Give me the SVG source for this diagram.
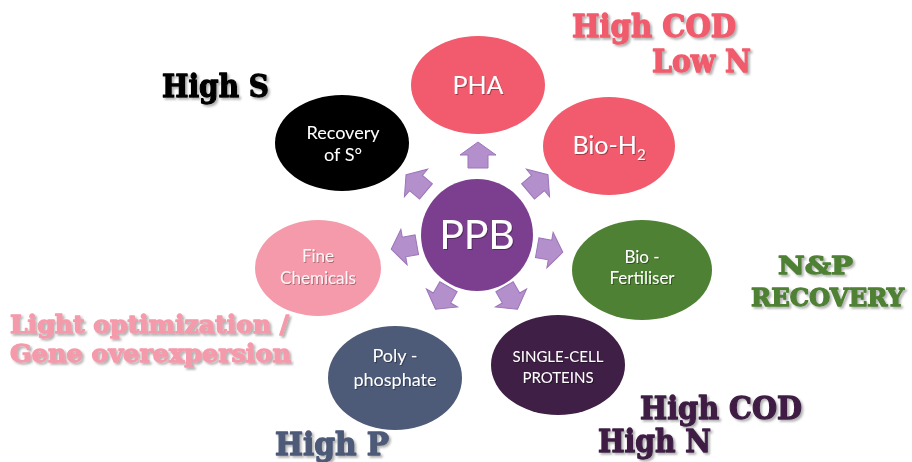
<svg xmlns="http://www.w3.org/2000/svg" xmlns:xlink="http://www.w3.org/1999/xlink" width="912" height="462" viewBox="0 0 912 462">
  <defs>
    <style>
      .node-text { font-family: Lato, "Open Sans", "Liberation Sans", sans-serif; fill: #ffffff; text-anchor: middle; filter: url(#txtShadow); }
      .tag { font-family: "DejaVu Serif", "Liberation Serif", serif; font-weight: bold; stroke-width: 1.3; stroke-linejoin: round; filter: url(#tagShadow); }
      .arrow { fill: #b38fcb; stroke: #9d74b9; stroke-width: 1; }
    </style>
    <filter id="txtShadow" x="-20%" y="-20%" width="140%" height="140%">
      <feDropShadow dx="1" dy="1" stdDeviation="0.6" flood-color="#000" flood-opacity="0.35"/>
    </filter>
    <filter id="tagShadow" x="-10%" y="-20%" width="120%" height="150%">
      <feDropShadow dx="2" dy="2" stdDeviation="1" flood-color="#555" flood-opacity="0.45"/>
    </filter>
    <!-- block arrow pointing up, centred on the origin -->
    <polygon id="blockArrow" class="arrow" points="0,-13 18,0 10,0 10,13 -10,13 -10,0 -18,0"/>
  </defs>

  <rect width="912" height="462" fill="#ffffff"/>

  <!-- connectors: block arrows radiating from PPB -->
  <g id="connectors">
    <use xlink:href="#blockArrow" transform="translate(478,155)"/>
    <use xlink:href="#blockArrow" transform="translate(416,183) rotate(-50)"/>
    <use xlink:href="#blockArrow" transform="translate(538,183) rotate(50)"/>
    <use xlink:href="#blockArrow" transform="translate(404,247) rotate(-100)"/>
    <use xlink:href="#blockArrow" transform="translate(550,250) rotate(100)"/>
    <use xlink:href="#blockArrow" transform="translate(442,298) rotate(-150)"/>
    <use xlink:href="#blockArrow" transform="translate(511,298) rotate(150)"/>
  </g>

  <g id="node-pha">
    <ellipse cx="478" cy="85" rx="67" ry="49" fill="#f15b6d"/>
    <text class="node-text" x="478" y="94" font-size="25">PHA</text>
  </g>

  <g id="node-sulfur">
    <ellipse cx="342" cy="143" rx="67" ry="48" fill="#000000"/>
    <text class="node-text" x="343" y="139" font-size="18">Recovery</text>
    <text class="node-text" x="343" y="161" font-size="18">of S°</text>
  </g>

  <g id="node-bioh2">
    <ellipse cx="609" cy="146" rx="66" ry="49" fill="#f15b6d"/>
    <text class="node-text" x="609" y="154" font-size="25">Bio-H<tspan font-size="15" dy="6">2</tspan></text>
  </g>

  <g id="node-ppb">
    <circle cx="477" cy="235" r="56" fill="#7c3f8f"/>
    <text class="node-text" x="477" y="249" font-size="41">PPB</text>
  </g>

  <g id="node-fine">
    <ellipse cx="318" cy="268" rx="63" ry="48" fill="#f59aab"/>
    <text class="node-text" x="318" y="262" font-size="17" fill-opacity="0.9">Fine</text>
    <text class="node-text" x="318" y="284" font-size="17" fill-opacity="0.9">Chemicals</text>
  </g>

  <g id="node-fertiliser">
    <ellipse cx="642" cy="270" rx="70" ry="50" fill="#4f8134"/>
    <text class="node-text" x="642" y="263" font-size="17">Bio -</text>
    <text class="node-text" x="642" y="284" font-size="17">Fertiliser</text>
  </g>

  <g id="node-polyphosphate">
    <ellipse cx="395" cy="378" rx="67" ry="52" fill="#4d5a78"/>
    <text class="node-text" x="395" y="362" font-size="18">Poly -</text>
    <text class="node-text" x="395" y="386" font-size="18">phosphate</text>
  </g>

  <g id="node-scp">
    <ellipse cx="558" cy="365" rx="67" ry="50" fill="#3f1f45"/>
    <text class="node-text" x="558" y="362" font-size="15">SINGLE-CELL</text>
    <text class="node-text" x="558" y="383" font-size="15">PROTEINS</text>
  </g>

  <!-- condition labels -->
  <g id="labels">
    <text class="tag" x="572" y="37" font-size="31" fill="#f15b6d" stroke="#f15b6d" textLength="164" lengthAdjust="spacingAndGlyphs">High COD</text>
    <text class="tag" x="652" y="72" font-size="31" fill="#f15b6d" stroke="#f15b6d" textLength="99" lengthAdjust="spacingAndGlyphs">Low N</text>
    <text class="tag" x="162" y="97" font-size="31" fill="#000000" stroke="#000000" textLength="107" lengthAdjust="spacingAndGlyphs">High S</text>
    <text class="tag" x="778" y="274" font-size="25" fill="#4f8134" stroke="#4f8134" stroke-width="1.7" textLength="75" lengthAdjust="spacingAndGlyphs">N&amp;P</text>
    <text class="tag" x="751" y="306" font-size="25" fill="#4f8134" stroke="#4f8134" stroke-width="1.7" textLength="153" lengthAdjust="spacingAndGlyphs">RECOVERY</text>
    <text class="tag" x="10" y="333" font-size="25" fill="#f59aab" stroke="#f59aab" textLength="279" lengthAdjust="spacingAndGlyphs">Light optimization /</text>
    <text class="tag" x="10" y="362" font-size="25" fill="#f59aab" stroke="#f59aab" textLength="281" lengthAdjust="spacingAndGlyphs">Gene overexpersion</text>
    <text class="tag" x="640" y="419" font-size="31" fill="#3f1f45" stroke="#3f1f45" textLength="162" lengthAdjust="spacingAndGlyphs">High COD</text>
    <text class="tag" x="598" y="452" font-size="31" fill="#3f1f45" stroke="#3f1f45" textLength="113" lengthAdjust="spacingAndGlyphs">High N</text>
    <text class="tag" x="275" y="455" font-size="31" fill="#4d5a78" stroke="#4d5a78" textLength="114" lengthAdjust="spacingAndGlyphs">High P</text>
  </g>
</svg>
